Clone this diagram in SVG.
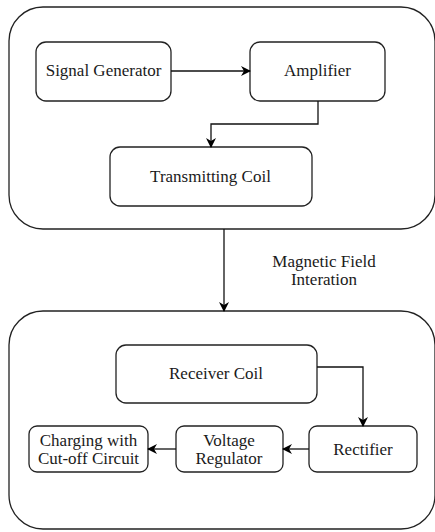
<svg xmlns="http://www.w3.org/2000/svg" width="435" height="532" viewBox="0 0 435 532">
<defs>
<marker id="ah" markerWidth="10" markerHeight="10" refX="9" refY="5" orient="auto" markerUnits="userSpaceOnUse">
<path d="M0,0 L10,5 L0,10 L3,5 Z" fill="#000"/>
</marker>
<style>
.box{fill:#fff;stroke:#222;stroke-width:1.3}
.outer{fill:#fff;stroke:#222;stroke-width:1.3}
.t{font-family:'Liberation Serif','Times New Roman',serif;font-size:17px;fill:#1a1a1a;text-anchor:middle}
.c{fill:none;stroke:#111;stroke-width:1.3}
</style>
</defs>
<rect width="435" height="532" fill="#fff"/>
<g id="transmitter">
<rect class="outer" x="9" y="7" width="426" height="222" rx="34" ry="34"/>
</g>
<g id="receiver">
<rect class="outer" x="9" y="311" width="426" height="218" rx="34" ry="34"/>
</g>
<g id="signal-generator">
<rect class="box" x="36" y="42" width="135" height="59" rx="10"/>
<text class="t" x="103.5" y="76">Signal Generator</text>
</g>
<g id="amplifier">
<rect class="box" x="250" y="42" width="135" height="59" rx="10"/>
<text class="t" x="317.5" y="76">Amplifier</text>
</g>
<g id="transmitting-coil">
<rect class="box" x="110" y="147" width="202" height="59" rx="10"/>
<text class="t" x="210.5" y="182">Transmitting Coil</text>
</g>
<g id="magnetic-label">
<text class="t" x="324" y="267">Magnetic Field</text>
<text class="t" x="324" y="284.5">Interation</text>
</g>
<g id="receiver-coil">
<rect class="box" x="116" y="345" width="201" height="58" rx="10"/>
<text class="t" x="216" y="379">Receiver Coil</text>
</g>
<g id="rectifier">
<rect class="box" x="309" y="426" width="108" height="46" rx="8"/>
<text class="t" x="363" y="454.5">Rectifier</text>
</g>
<g id="voltage-regulator">
<rect class="box" x="176" y="426" width="107" height="46" rx="8"/>
<text class="t" x="229" y="446">Voltage</text>
<text class="t" x="229" y="463.5">Regulator</text>
</g>
<g id="charging">
<rect class="box" x="29" y="426" width="119" height="46" rx="8"/>
<text class="t" x="88.5" y="446">Charging with</text>
<text class="t" x="88.5" y="463.5">Cut-off Circuit</text>
</g>
<g id="connectors">
<path class="c" d="M171,71 H250" marker-end="url(#ah)"/>
<path class="c" d="M318,101 V124 H211 V147" marker-end="url(#ah)"/>
<path class="c" d="M224,229 V311" marker-end="url(#ah)"/>
<path class="c" d="M317,367 H363 V426" marker-end="url(#ah)"/>
<path class="c" d="M309,449 H283" marker-end="url(#ah)"/>
<path class="c" d="M176,449 H148" marker-end="url(#ah)"/>
</g>
</svg>
